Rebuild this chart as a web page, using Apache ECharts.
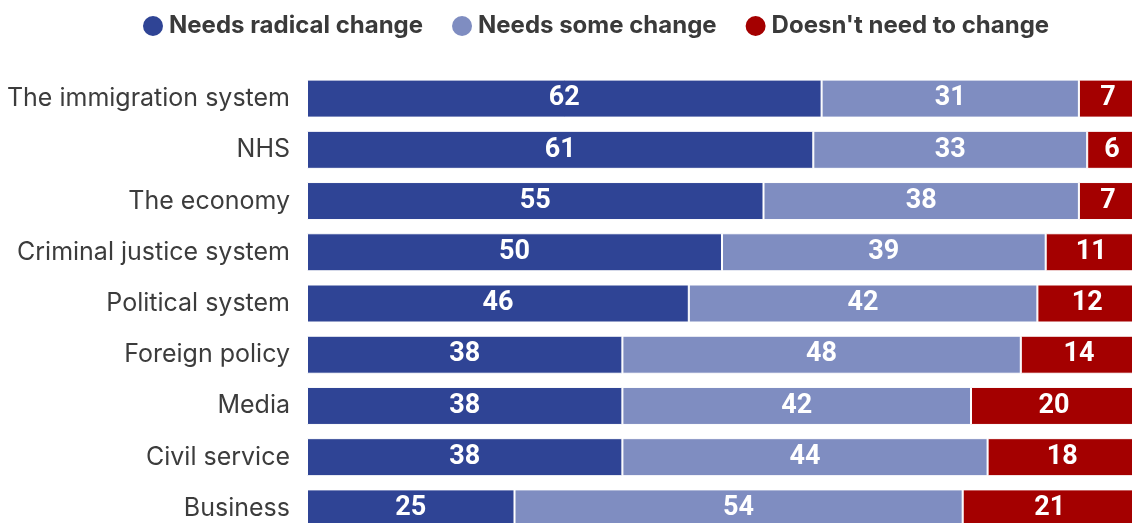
<!DOCTYPE html>
<html>
<head>
<meta charset="utf-8">
<script src="https://cdn.jsdelivr.net/npm/echarts@6/dist/echarts.min.js"></script>
<style>
  html, body { margin: 0; padding: 0; background: #ffffff; overflow: hidden; }
  /* plot runs slightly past the right and bottom edges of the page */
  #chart { width: 1137px; height: 534px; }
</style>
</head>
<body>
<div id="chart"></div>
<script>
// Survey: how much change each institution needs (%)
const categories = [
  'The immigration system', 'NHS', 'The economy', 'Criminal justice system',
  'Political system', 'Foreign policy', 'Media', 'Civil service', 'Business'
];
const radicalChange = [62, 61, 55, 50, 46, 38, 38, 38, 25];
const someChange    = [31, 33, 38, 39, 42, 48, 42, 44, 54];
const noChange      = [7, 6, 7, 11, 12, 14, 20, 18, 21];

const seriesNames = ['Needs radical change', 'Needs some change', "Doesn't need to change"];
const seriesColors = ['#2f4495', '#7f8dc1', '#a40000'];
const seriesData = [radicalChange, someChange, noChange];

const chart = echarts.init(document.getElementById('chart'));

chart.setOption({
  animation: false,
  legend: {
    top: 9,
    left: 136,
    icon: 'circle',
    itemWidth: 22,
    itemHeight: 22,
    itemGap: 27,
    textStyle: {
      fontFamily: 'Inter',
      fontWeight: 'bold',
      fontSize: 24,
      color: '#3a3a3a',
      padding: [0, 0, 0, 0]
    },
    data: seriesNames
  },
  grid: { left: 307, right: 0, top: 73, bottom: 0, containLabel: false },
  xAxis: {
    type: 'value', min: 0, max: 100,
    show: false
  },
  yAxis: {
    type: 'category',
    inverse: true,
    data: categories,
    axisLine: { show: false },
    axisTick: { show: false },
    axisLabel: {
      margin: 17,
      fontFamily: 'Inter',
      fontSize: 25,
      color: '#3c3c3c'
    }
  },
  series: seriesData.map((d, i) => ({
    name: seriesNames[i],
    type: 'bar',
    stack: 'total',
    barWidth: 38,
    data: d,
    itemStyle: { color: seriesColors[i], borderColor: '#ffffff', borderWidth: 1 },
    label: {
      show: true,
      position: 'inside',
      color: '#ffffff',
      fontFamily: 'Roboto',
      fontWeight: 'bold',
      fontSize: 27
    }
  }))
});
</script>
</body>
</html>
